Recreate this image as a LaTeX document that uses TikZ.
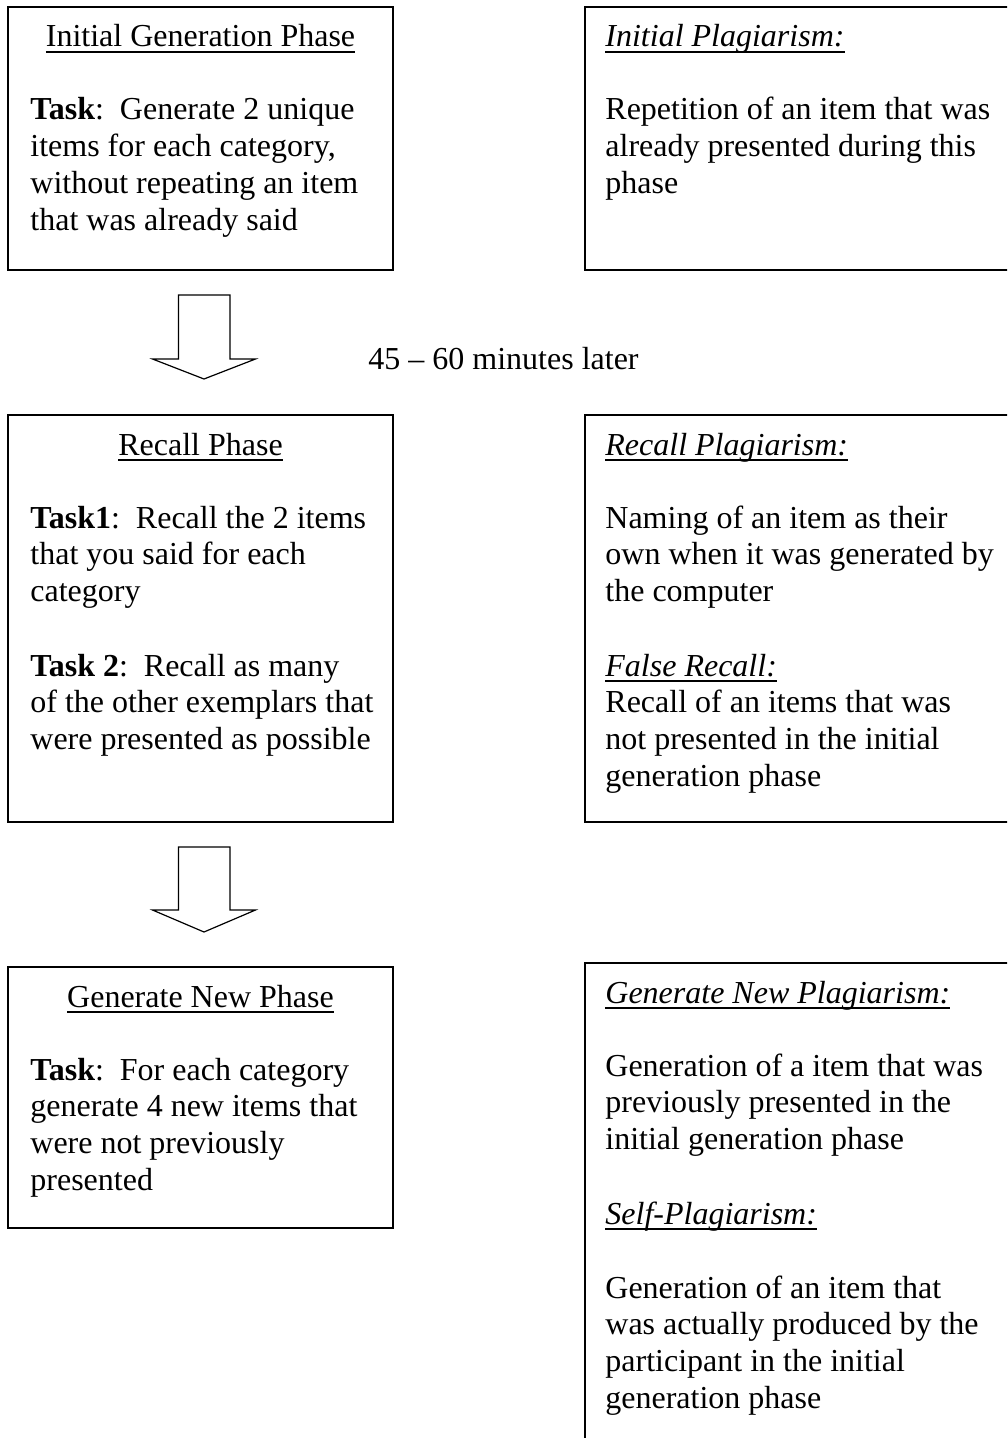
\documentclass[tikz,border=0pt]{standalone}
\usepackage{fontspec}
\setmainfont{Liberation Serif}
\usetikzlibrary{positioning}
% underline at a fixed depth, through descenders
\newcommand{\ulinetext}[1]{\setbox0\hbox{#1}\rlap{\rule[-2.9pt]{\wd0}{0.8pt}}\box0}

\begin{document}
\begin{tikzpicture}[x=0.5pt,y=-0.5pt,
  phasebox/.style={line width=1pt},
  blockarrow/.style={line width=0.6pt},
  boxtext/.style={anchor=base west,inner sep=0pt,align=left,font=\fontsize{16}{18.4}\selectfont},
  titletext/.style={anchor=base,inner sep=0pt,font=\fontsize{16}{18.4}\selectfont}]
\useasboundingbox (0,0) rectangle (1007,1438);
\clip (0,0) rectangle (1007,1438);

% boxes
\draw[phasebox] (8,7) rectangle (393,270);
\draw[phasebox] (585,7) rectangle (1012,270);
\draw[phasebox] (8,415) rectangle (393,822);
\draw[phasebox] (585,415) rectangle (1012,822);
\draw[phasebox] (8,967) rectangle (393,1228);
\draw[phasebox] (585,963) rectangle (1012,1445);

% initial generation (multi-line texts sit on their last baseline)
\node[titletext] (initTitle) at (200.5,47) {\ulinetext{Initial Generation Phase}};
\node[boxtext] (initTask) at (30,230.4) {\textbf{Task}:\ \ Generate 2 unique\\items for each category,\\without repeating an item\\that was already said};
\node[boxtext] (initPlag) at (605,47) {\ulinetext{\textit{Initial Plagiarism:}}};
\node[boxtext] (initPlagText) at (605,193.6) {Repetition of an item that was\\already presented during this\\phase};

% arrows
\coordinate (arrowA) at (204,295);
\coordinate (arrowB) at (204,847);
\draw[blockarrow] (arrowA) ++(-25.5,0) -- ++(0,64) -- ++(-26,0) -- ++(51.5,20) -- ++(51.5,-20) -- ++(-25.5,0) -- ++(0,-64) -- cycle;
\draw[blockarrow] (arrowB) ++(-25.5,0) -- ++(0,63) -- ++(-26,0) -- ++(51.5,22) -- ++(51.5,-22) -- ++(-25.5,0) -- ++(0,-63) -- cycle;
\node[boxtext] (delay) at (368,370) {45 -- 60 minutes later};

% recall
\node[titletext] (recallTitle) at (200.5,455) {\ulinetext{Recall Phase}};
\node[boxtext] (recallTaskA) at (30,601.6) {\textbf{Task1}:\ \ Recall the 2 items\\that you said for each\\category};
\node[boxtext] (recallTaskB) at (30,749.6) {\textbf{Task 2}:\ \ Recall as many\\of the other exemplars that\\were presented as possible};
\node[boxtext] (recallPlag) at (605,455) {\ulinetext{\textit{Recall Plagiarism:}}};
\node[boxtext] (recallPlagText) at (605,601.6) {Naming of an item as their\\own when it was generated by\\the computer};
\node[boxtext] (falseRecall) at (605,786.4) {\ulinetext{\textit{False Recall:}}\\Recall of an items that was\\not presented in the initial\\generation phase};

% generate new
\node[titletext] (newTitle) at (200.5,1007) {\ulinetext{Generate New Phase}};
\node[boxtext] (newTask) at (30,1190.4) {\textbf{Task}:\ \ For each category\\generate 4 new items that\\were not previously\\presented};
\node[boxtext] (newPlag) at (605,1003) {\ulinetext{\textit{Generate New Plagiarism:}}};
\node[boxtext] (newPlagText) at (605,1149.6) {Generation of a item that was\\previously presented in the\\initial generation phase};
\node[boxtext] (selfPlag) at (605,1224) {\ulinetext{\textit{Self-Plagiarism:}}};
\node[boxtext] (selfPlagText) at (605,1408.4) {Generation of an item that\\was actually produced by the\\participant in the initial\\generation phase};
\end{tikzpicture}
\end{document}
